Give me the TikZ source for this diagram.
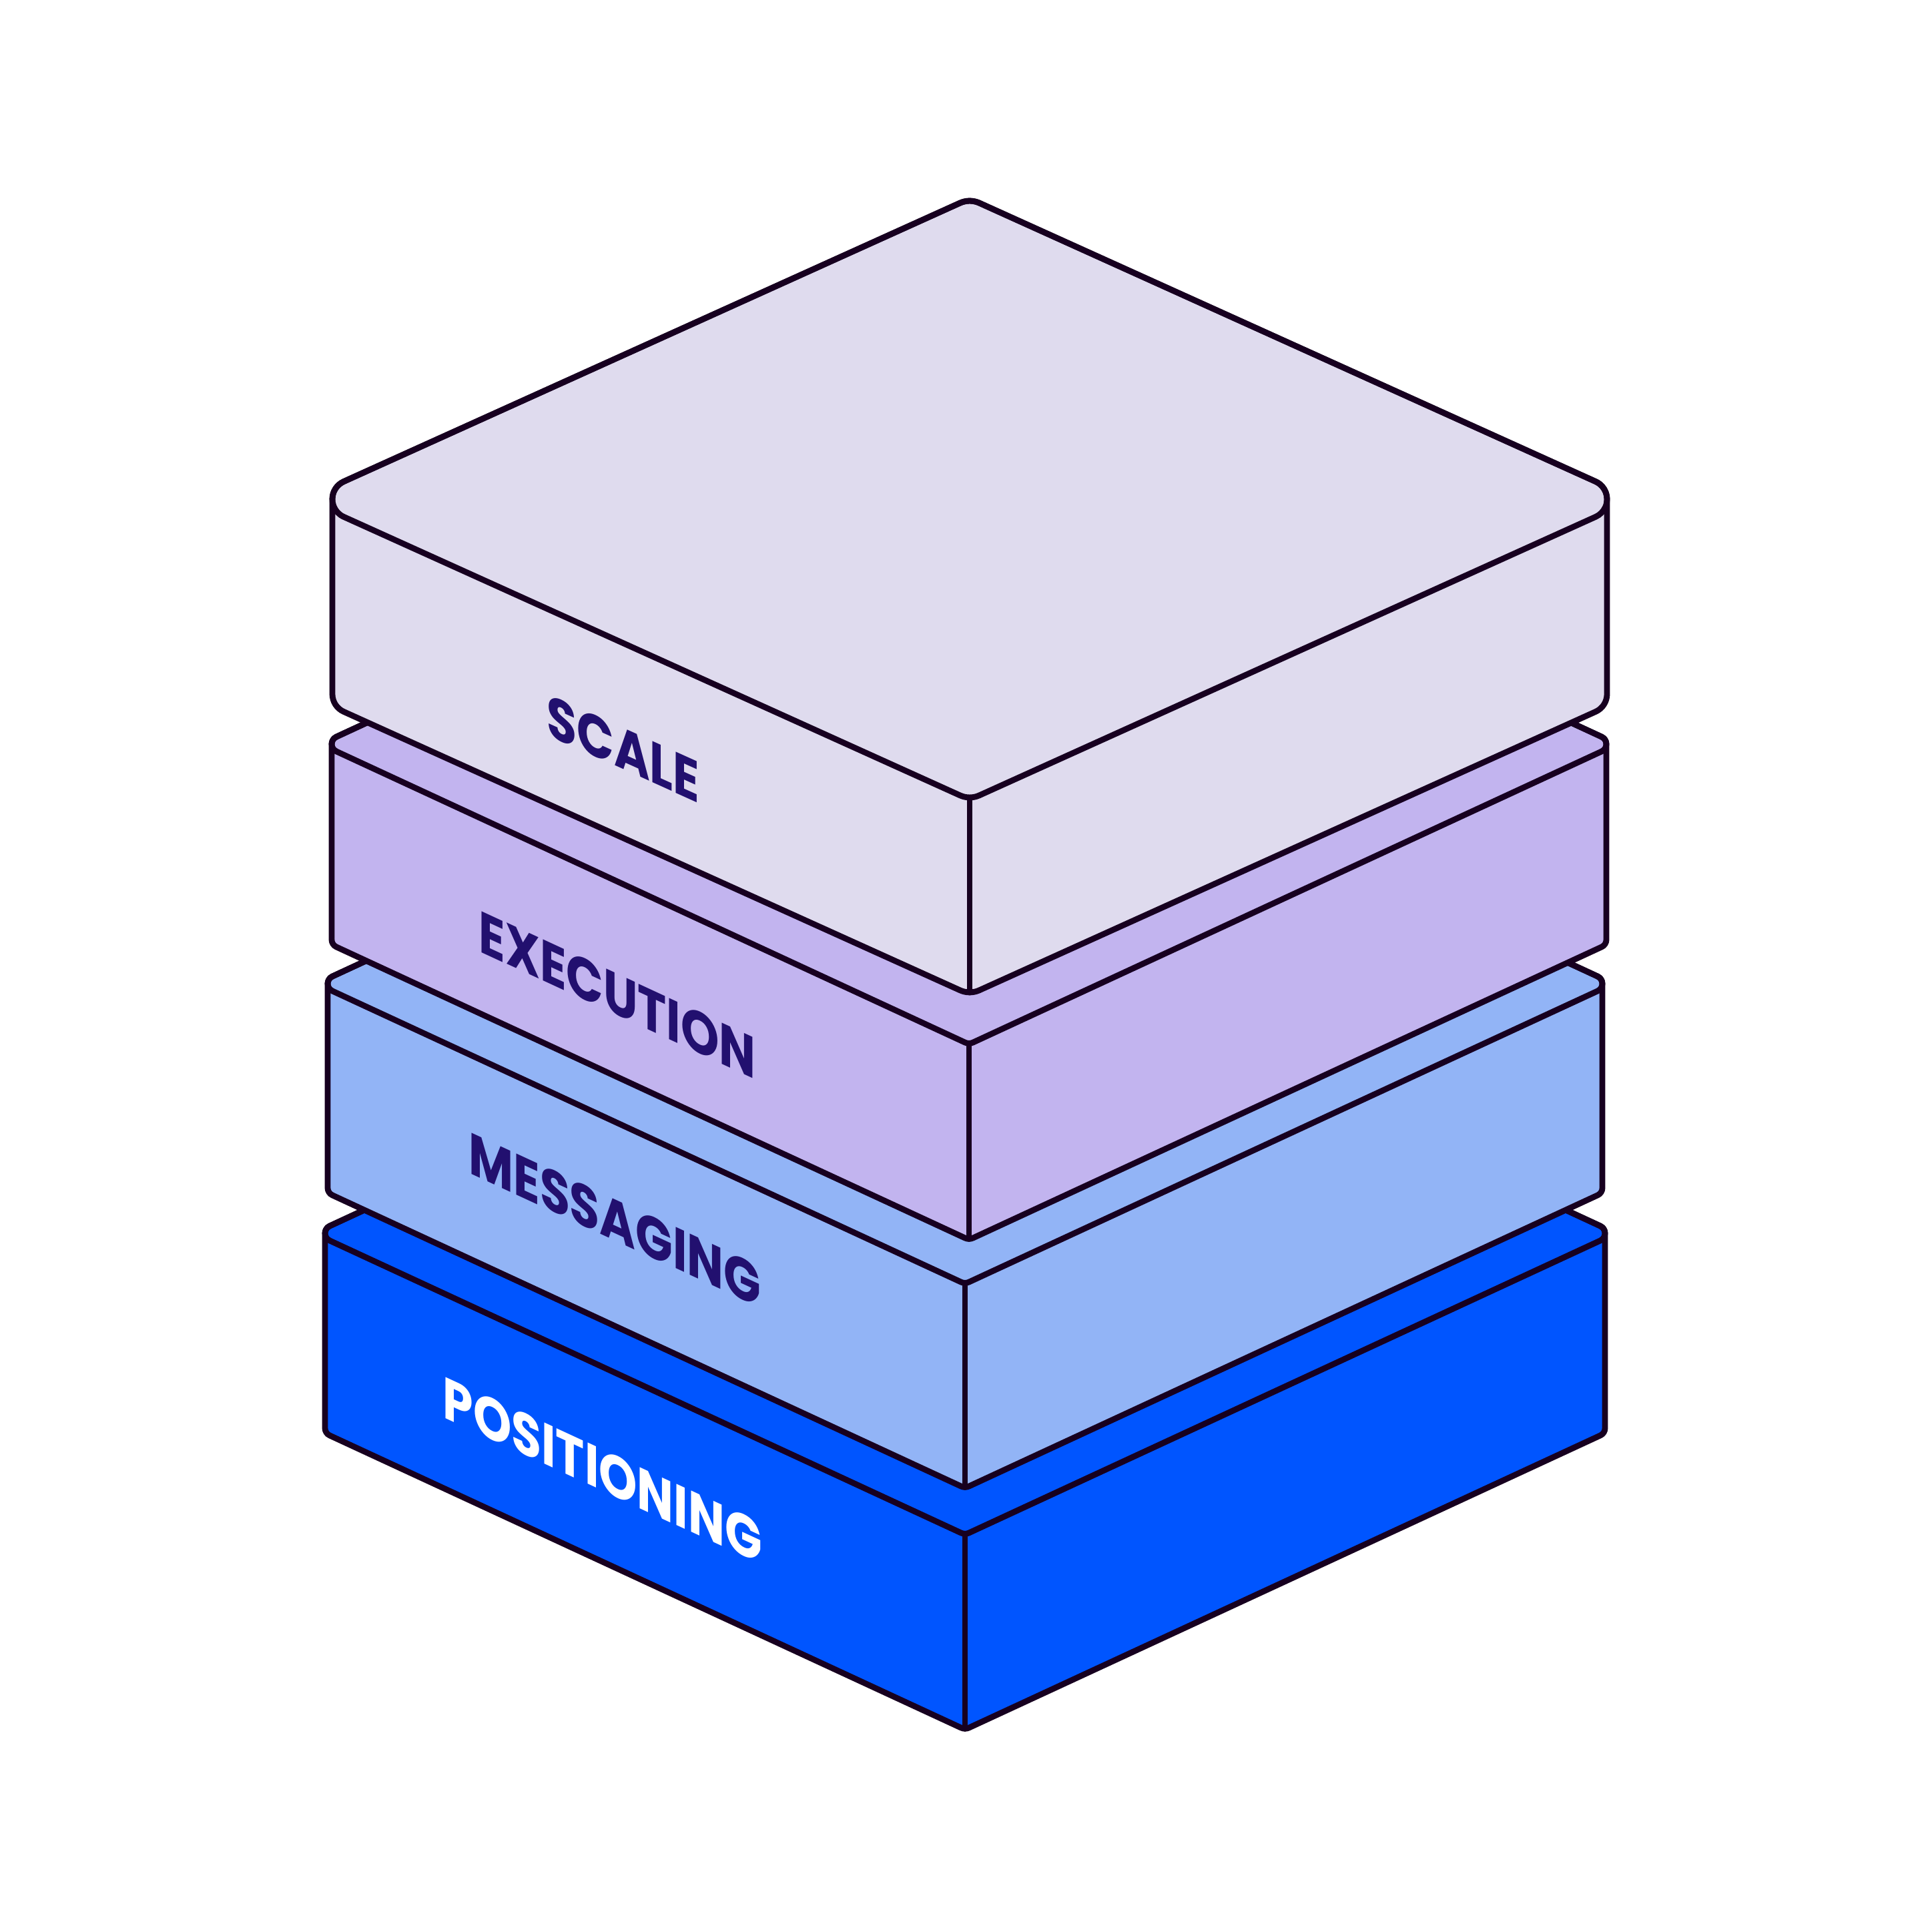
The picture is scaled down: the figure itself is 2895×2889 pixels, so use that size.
\documentclass[tikz,border=0pt]{standalone}
\usepackage{fontspec}
\setmainfont{Poppins}
\definecolor{cline}{HTML}{170020}
\definecolor{cone}{HTML}{DFDBEE}
\definecolor{ctwo}{HTML}{C2B4EF}
\definecolor{cthree}{HTML}{92B4F6}
\definecolor{cfour}{HTML}{0055FF}
\definecolor{ctext}{HTML}{22106F}
\newcommand\isobox[8]{%
 \pgfmathsetmacro\bxal{atan(#5)}%
 \pgfmathsetmacro\bxc{(#1+#2)/2}%
 \pgfmathsetmacro\bxUx{#1+#6-#6*sin(\bxal)}%
 \pgfmathsetmacro\bxUy{#3-#6*cos(\bxal)}%
 \pgfmathsetmacro\bxyT{\bxUy-#5*(\bxc-\bxUx)}%
 \pgfmathsetmacro\bxcT{\bxyT+#7/cos(\bxal)}%
 \pgfmathsetmacro\bxcF{2*#3-\bxyT-#7/cos(\bxal)}%
 \pgfmathsetmacro\bxcB{\bxcF+#4}%
 \pgfmathsetmacro\bxyb{#3+#4}%
 \pgfmathsetmacro\bxcL{#1+#6}%
 \pgfmathsetmacro\bxcR{#2-#6}%
 \filldraw[boxline, fill=#8] (#1,#3)
   arc[start angle=180, end angle={270-\bxal}, radius=#6]
   -- ({\bxc+#7*cos(270-\bxal)},{\bxcT+#7*sin(270-\bxal)})
   arc[start angle={270-\bxal}, end angle={270+\bxal}, radius=#7]
   -- ({\bxcR+#6*cos(270+\bxal)},{#3+#6*sin(270+\bxal)})
   arc[start angle={270+\bxal}, end angle=360, radius=#6]
   -- (#2,\bxyb)
   arc[start angle=0, end angle={90-\bxal}, radius=#6]
   -- ({\bxc+#7*cos(90-\bxal)},{\bxcB+#7*sin(90-\bxal)})
   arc[start angle={90-\bxal}, end angle={90+\bxal}, radius=#7]
   -- ({\bxcL+#6*cos(90+\bxal)},{\bxyb+#6*sin(90+\bxal)})
   arc[start angle={90+\bxal}, end angle=180, radius=#6]
   -- cycle;
 \draw[boxline] ({\bxcL+#6*cos(90+\bxal)},{#3+#6*sin(90+\bxal)})
   arc[start angle={90+\bxal}, end angle={270-\bxal}, radius=#6]
   -- ({\bxc+#7*cos(270-\bxal)},{\bxcT+#7*sin(270-\bxal)})
   arc[start angle={270-\bxal}, end angle={270+\bxal}, radius=#7]
   -- ({\bxcR+#6*cos(270+\bxal)},{#3+#6*sin(270+\bxal)})
   arc[start angle={270+\bxal}, end angle={450-\bxal}, radius=#6]
   -- ({\bxc+#7*cos(90-\bxal)},{\bxcF+#7*sin(90-\bxal)})
   arc[start angle={90-\bxal}, end angle={90+\bxal}, radius=#7]
   -- cycle;
 \draw[boxline] (\bxc,{\bxcF+#7}) -- (\bxc,{\bxcB+#7});
}
\newcommand\facelabel[6]{%
 \begin{scope}[shift={(#1,#2)}, yslant=-#3]
  \node[labeltext, text=#5, transform shape] (#6) at (0,0) {#4};
 \end{scope}
}
\begin{document}
\begin{tikzpicture}[x=0.01cm, y=-0.01cm,
  boxline/.style={draw=cline, line width=2.5pt, line join=round, line cap=round},
  labeltext/.style={anchor=base west, inner sep=0pt, font=\fontsize{25}{29}\selectfont\bfseries, xscale=0.83}]
\fill[white] (0,0) rectangle (2895,2889);
\useasboundingbox (0,0) rectangle (2895,2889);
\isobox{487}{2405}{1848}{292}{0.463}{12}{14}{cfour}
\facelabel{663}{2123}{0.463}{POSITIONING}{white}{lpos}
\isobox{491}{2401}{1474}{306}{0.463}{12}{14}{cthree}
\facelabel{702}{1757}{0.463}{MESSAGING}{ctext}{lmsg}
\isobox{497}{2407}{1115}{293}{0.463}{12}{14}{ctwo}
\facelabel{717}{1425}{0.463}{EXECUTION}{ctext}{lexe}
\isobox{498}{2408}{748}{292}{0.452}{29}{35}{cone}
\facelabel{819}{1101}{0.452}{SCALE}{ctext}{lsca}
\end{tikzpicture}
\end{document}
